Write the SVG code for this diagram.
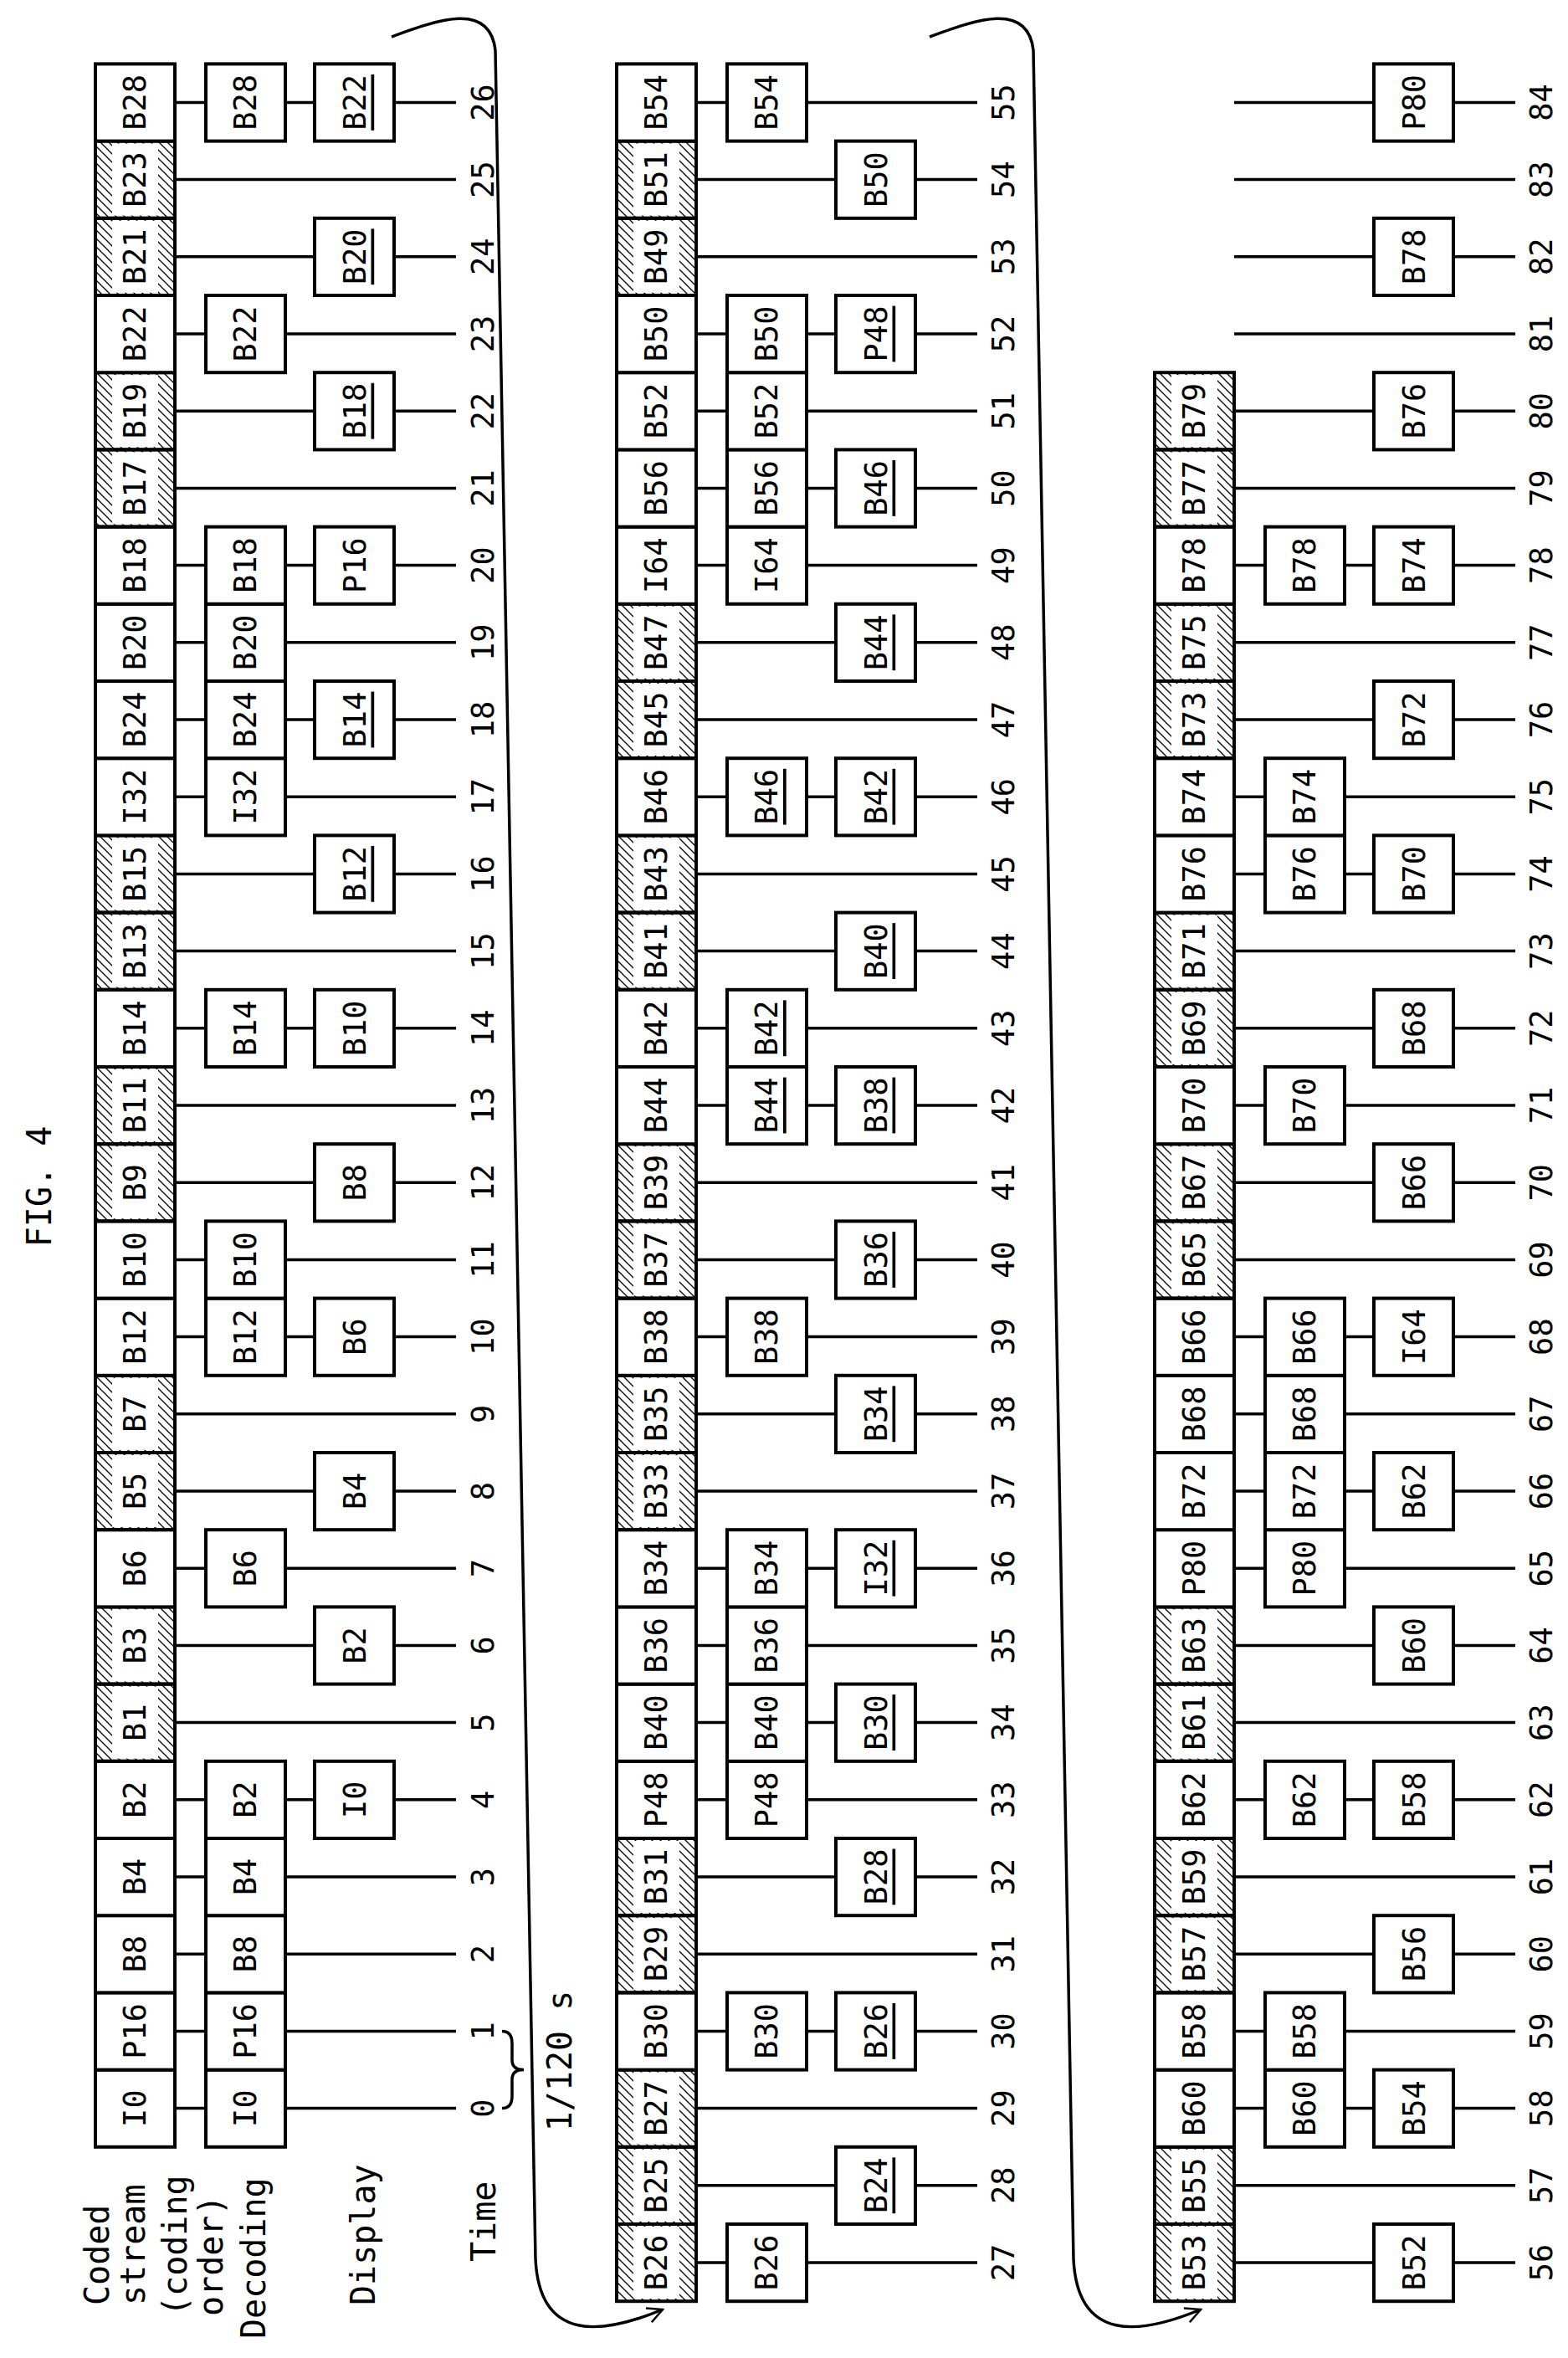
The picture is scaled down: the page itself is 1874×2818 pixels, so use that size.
<svg xmlns="http://www.w3.org/2000/svg" width="1874" height="2818" viewBox="0 0 1874 2818">
<style>
.b{fill:#fff;stroke:#000;stroke-width:4}
.hb{fill:url(#hp);stroke:#000;stroke-width:4}
.w{fill:#fff}
.l{stroke:#000;stroke-width:3.5;fill:none}
.t{font-family:"DejaVu Sans Mono","Liberation Mono",monospace;font-size:37px;text-anchor:middle;dominant-baseline:central;fill:#000}
.u{text-decoration:underline}
.lb{font-family:"DejaVu Sans Mono","Liberation Mono",monospace;font-size:40px;dominant-baseline:central;fill:#000}
</style>
<defs>
<pattern id="hp" width="10" height="10" patternUnits="userSpaceOnUse"><path d="M0,0 L10,10 M-5,5 L5,15 M5,-5 L15,5" stroke="#000" stroke-width="1.3"/></pattern>
<marker id="ah" markerWidth="24" markerHeight="24" refX="20" refY="12" orient="auto" markerUnits="userSpaceOnUse"><path d="M2,3 L20,12 L2,21" fill="none" stroke="#000" stroke-width="2.5"/></marker>
</defs>
<rect width="1874" height="2818" fill="#fff"/>
<g id="labels">
<text class="lb" font-size="52" text-anchor="middle" transform="translate(47,1418) rotate(-90)">FIG. 4</text>
<text class="lb" transform="translate(116,2755) rotate(-90)">Coded</text>
<text class="lb" transform="translate(159,2755) rotate(-90)">stream</text>
<text class="lb" transform="translate(209,2768) rotate(-90)">(coding</text>
<text class="lb" transform="translate(252,2768) rotate(-90)">order)</text>
<text class="lb" transform="translate(303,2795) rotate(-90)">Decoding</text>
<text class="lb" transform="translate(434,2755) rotate(-90)">Display</text>
<text class="lb" transform="translate(578,2703) rotate(-90)">Time</text>
<text class="lb" text-anchor="middle" transform="translate(669,2463) rotate(-90)">1/120 s</text>
</g>
<g id="connectors">
<path class="l" d="M600,2519.6 Q612,2519.6 612,2505 L612,2485 Q612,2473.5 626,2473.5 Q612,2473.5 612,2462 L612,2442 Q612,2427.4 600,2427.4"/>
<path class="l" stroke-width="3" d="M468,44 C520,25 585,0 592,60 L640,2700 C645,2800 720,2790 792,2760" marker-end="url(#ah)"/>
<path class="l" stroke-width="3" d="M1111,44 C1163,25 1228,0 1235,60 L1283,2700 C1288,2800 1363,2790 1435,2760" marker-end="url(#ah)"/>
<g id="lines1">
<line class="l" x1="209" x2="545" y1="2519.6" y2="2519.6"/><line class="l" x1="209" x2="545" y1="2427.4" y2="2427.4"/><line class="l" x1="209" x2="545" y1="2335.2" y2="2335.2"/><line class="l" x1="209" x2="545" y1="2243" y2="2243"/><line class="l" x1="209" x2="545" y1="2150.8" y2="2150.8"/><line class="l" x1="209" x2="545" y1="2058.6" y2="2058.6"/><line class="l" x1="209" x2="545" y1="1966.4" y2="1966.4"/><line class="l" x1="209" x2="545" y1="1874.2" y2="1874.2"/><line class="l" x1="209" x2="545" y1="1782" y2="1782"/><line class="l" x1="209" x2="545" y1="1689.8" y2="1689.8"/><line class="l" x1="209" x2="545" y1="1597.6" y2="1597.6"/><line class="l" x1="209" x2="545" y1="1505.4" y2="1505.4"/><line class="l" x1="209" x2="545" y1="1413.2" y2="1413.2"/><line class="l" x1="209" x2="545" y1="1321" y2="1321"/><line class="l" x1="209" x2="545" y1="1228.8" y2="1228.8"/><line class="l" x1="209" x2="545" y1="1136.6" y2="1136.6"/><line class="l" x1="209" x2="545" y1="1044.4" y2="1044.4"/><line class="l" x1="209" x2="545" y1="952.2" y2="952.2"/><line class="l" x1="209" x2="545" y1="860" y2="860"/><line class="l" x1="209" x2="545" y1="767.8" y2="767.8"/><line class="l" x1="209" x2="545" y1="675.6" y2="675.6"/><line class="l" x1="209" x2="545" y1="583.4" y2="583.4"/><line class="l" x1="209" x2="545" y1="491.2" y2="491.2"/><line class="l" x1="209" x2="545" y1="399" y2="399"/><line class="l" x1="209" x2="545" y1="306.8" y2="306.8"/><line class="l" x1="209" x2="545" y1="214.6" y2="214.6"/><line class="l" x1="209" x2="545" y1="122.4" y2="122.4"/>
</g>
<g id="lines2">
<line class="l" x1="832" x2="1168" y1="2704" y2="2704"/><line class="l" x1="832" x2="1168" y1="2611.8" y2="2611.8"/><line class="l" x1="832" x2="1168" y1="2519.6" y2="2519.6"/><line class="l" x1="832" x2="1168" y1="2427.4" y2="2427.4"/><line class="l" x1="832" x2="1168" y1="2335.2" y2="2335.2"/><line class="l" x1="832" x2="1168" y1="2243" y2="2243"/><line class="l" x1="832" x2="1168" y1="2150.8" y2="2150.8"/><line class="l" x1="832" x2="1168" y1="2058.6" y2="2058.6"/><line class="l" x1="832" x2="1168" y1="1966.4" y2="1966.4"/><line class="l" x1="832" x2="1168" y1="1874.2" y2="1874.2"/><line class="l" x1="832" x2="1168" y1="1782" y2="1782"/><line class="l" x1="832" x2="1168" y1="1689.8" y2="1689.8"/><line class="l" x1="832" x2="1168" y1="1597.6" y2="1597.6"/><line class="l" x1="832" x2="1168" y1="1505.4" y2="1505.4"/><line class="l" x1="832" x2="1168" y1="1413.2" y2="1413.2"/><line class="l" x1="832" x2="1168" y1="1321" y2="1321"/><line class="l" x1="832" x2="1168" y1="1228.8" y2="1228.8"/><line class="l" x1="832" x2="1168" y1="1136.6" y2="1136.6"/><line class="l" x1="832" x2="1168" y1="1044.4" y2="1044.4"/><line class="l" x1="832" x2="1168" y1="952.2" y2="952.2"/><line class="l" x1="832" x2="1168" y1="860" y2="860"/><line class="l" x1="832" x2="1168" y1="767.8" y2="767.8"/><line class="l" x1="832" x2="1168" y1="675.6" y2="675.6"/><line class="l" x1="832" x2="1168" y1="583.4" y2="583.4"/><line class="l" x1="832" x2="1168" y1="491.2" y2="491.2"/><line class="l" x1="832" x2="1168" y1="399" y2="399"/><line class="l" x1="832" x2="1168" y1="306.8" y2="306.8"/><line class="l" x1="832" x2="1168" y1="214.6" y2="214.6"/><line class="l" x1="832" x2="1168" y1="122.4" y2="122.4"/>
</g>
<g id="lines3">
<line class="l" x1="1475" x2="1811" y1="2704" y2="2704"/><line class="l" x1="1475" x2="1811" y1="2611.8" y2="2611.8"/><line class="l" x1="1475" x2="1811" y1="2519.6" y2="2519.6"/><line class="l" x1="1475" x2="1811" y1="2427.4" y2="2427.4"/><line class="l" x1="1475" x2="1811" y1="2335.2" y2="2335.2"/><line class="l" x1="1475" x2="1811" y1="2243" y2="2243"/><line class="l" x1="1475" x2="1811" y1="2150.8" y2="2150.8"/><line class="l" x1="1475" x2="1811" y1="2058.6" y2="2058.6"/><line class="l" x1="1475" x2="1811" y1="1966.4" y2="1966.4"/><line class="l" x1="1475" x2="1811" y1="1874.2" y2="1874.2"/><line class="l" x1="1475" x2="1811" y1="1782" y2="1782"/><line class="l" x1="1475" x2="1811" y1="1689.8" y2="1689.8"/><line class="l" x1="1475" x2="1811" y1="1597.6" y2="1597.6"/><line class="l" x1="1475" x2="1811" y1="1505.4" y2="1505.4"/><line class="l" x1="1475" x2="1811" y1="1413.2" y2="1413.2"/><line class="l" x1="1475" x2="1811" y1="1321" y2="1321"/><line class="l" x1="1475" x2="1811" y1="1228.8" y2="1228.8"/><line class="l" x1="1475" x2="1811" y1="1136.6" y2="1136.6"/><line class="l" x1="1475" x2="1811" y1="1044.4" y2="1044.4"/><line class="l" x1="1475" x2="1811" y1="952.2" y2="952.2"/><line class="l" x1="1475" x2="1811" y1="860" y2="860"/><line class="l" x1="1475" x2="1811" y1="767.8" y2="767.8"/><line class="l" x1="1475" x2="1811" y1="675.6" y2="675.6"/><line class="l" x1="1475" x2="1811" y1="583.4" y2="583.4"/><line class="l" x1="1475" x2="1811" y1="491.2" y2="491.2"/><line class="l" x1="1475" x2="1811" y1="399" y2="399"/><line class="l" x1="1475" x2="1811" y1="306.8" y2="306.8"/><line class="l" x1="1475" x2="1811" y1="214.6" y2="214.6"/><line class="l" x1="1475" x2="1811" y1="122.4" y2="122.4"/>
</g>
</g>
<g id="coded1">
<g id="c0"><rect class="b" x="114" y="2473.6" width="95" height="92.2"/><text class="t" transform="translate(161.5,2519.6) rotate(-90)">I0</text></g>
<g id="c1"><rect class="b" x="114" y="2381.4" width="95" height="92.2"/><text class="t" transform="translate(161.5,2427.4) rotate(-90)">P16</text></g>
<g id="c2"><rect class="b" x="114" y="2289.2" width="95" height="92.2"/><text class="t" transform="translate(161.5,2335.2) rotate(-90)">B8</text></g>
<g id="c3"><rect class="b" x="114" y="2197" width="95" height="92.2"/><text class="t" transform="translate(161.5,2243) rotate(-90)">B4</text></g>
<g id="c4"><rect class="b" x="114" y="2104.8" width="95" height="92.2"/><text class="t" transform="translate(161.5,2150.8) rotate(-90)">B2</text></g>
<g id="c5"><rect class="hb" x="114" y="2012.6" width="95" height="92.2"/><rect class="w" x="134" y="2015.6" width="55" height="86"/><text class="t" transform="translate(161.5,2058.6) rotate(-90)">B1</text></g>
<g id="c6"><rect class="hb" x="114" y="1920.4" width="95" height="92.2"/><rect class="w" x="134" y="1923.4" width="55" height="86"/><text class="t" transform="translate(161.5,1966.4) rotate(-90)">B3</text></g>
<g id="c7"><rect class="b" x="114" y="1828.2" width="95" height="92.2"/><text class="t" transform="translate(161.5,1874.2) rotate(-90)">B6</text></g>
<g id="c8"><rect class="hb" x="114" y="1736" width="95" height="92.2"/><rect class="w" x="134" y="1739" width="55" height="86"/><text class="t" transform="translate(161.5,1782) rotate(-90)">B5</text></g>
<g id="c9"><rect class="hb" x="114" y="1643.8" width="95" height="92.2"/><rect class="w" x="134" y="1646.8" width="55" height="86"/><text class="t" transform="translate(161.5,1689.8) rotate(-90)">B7</text></g>
<g id="c10"><rect class="b" x="114" y="1551.6" width="95" height="92.2"/><text class="t" transform="translate(161.5,1597.6) rotate(-90)">B12</text></g>
<g id="c11"><rect class="b" x="114" y="1459.4" width="95" height="92.2"/><text class="t" transform="translate(161.5,1505.4) rotate(-90)">B10</text></g>
<g id="c12"><rect class="hb" x="114" y="1367.2" width="95" height="92.2"/><rect class="w" x="134" y="1370.2" width="55" height="86"/><text class="t" transform="translate(161.5,1413.2) rotate(-90)">B9</text></g>
<g id="c13"><rect class="hb" x="114" y="1275" width="95" height="92.2"/><rect class="w" x="134" y="1278" width="55" height="86"/><text class="t" transform="translate(161.5,1321) rotate(-90)">B11</text></g>
<g id="c14"><rect class="b" x="114" y="1182.8" width="95" height="92.2"/><text class="t" transform="translate(161.5,1228.8) rotate(-90)">B14</text></g>
<g id="c15"><rect class="hb" x="114" y="1090.6" width="95" height="92.2"/><rect class="w" x="134" y="1093.6" width="55" height="86"/><text class="t" transform="translate(161.5,1136.6) rotate(-90)">B13</text></g>
<g id="c16"><rect class="hb" x="114" y="998.4" width="95" height="92.2"/><rect class="w" x="134" y="1001.4" width="55" height="86"/><text class="t" transform="translate(161.5,1044.4) rotate(-90)">B15</text></g>
<g id="c17"><rect class="b" x="114" y="906.2" width="95" height="92.2"/><text class="t" transform="translate(161.5,952.2) rotate(-90)">I32</text></g>
<g id="c18"><rect class="b" x="114" y="814" width="95" height="92.2"/><text class="t" transform="translate(161.5,860) rotate(-90)">B24</text></g>
<g id="c19"><rect class="b" x="114" y="721.8" width="95" height="92.2"/><text class="t" transform="translate(161.5,767.8) rotate(-90)">B20</text></g>
<g id="c20"><rect class="b" x="114" y="629.6" width="95" height="92.2"/><text class="t" transform="translate(161.5,675.6) rotate(-90)">B18</text></g>
<g id="c21"><rect class="hb" x="114" y="537.4" width="95" height="92.2"/><rect class="w" x="134" y="540.4" width="55" height="86"/><text class="t" transform="translate(161.5,583.4) rotate(-90)">B17</text></g>
<g id="c22"><rect class="hb" x="114" y="445.2" width="95" height="92.2"/><rect class="w" x="134" y="448.2" width="55" height="86"/><text class="t" transform="translate(161.5,491.2) rotate(-90)">B19</text></g>
<g id="c23"><rect class="b" x="114" y="353" width="95" height="92.2"/><text class="t" transform="translate(161.5,399) rotate(-90)">B22</text></g>
<g id="c24"><rect class="hb" x="114" y="260.8" width="95" height="92.2"/><rect class="w" x="134" y="263.8" width="55" height="86"/><text class="t" transform="translate(161.5,306.8) rotate(-90)">B21</text></g>
<g id="c25"><rect class="hb" x="114" y="168.6" width="95" height="92.2"/><rect class="w" x="134" y="171.6" width="55" height="86"/><text class="t" transform="translate(161.5,214.6) rotate(-90)">B23</text></g>
<g id="c26"><rect class="b" x="114" y="76.4" width="95" height="92.2"/><text class="t" transform="translate(161.5,122.4) rotate(-90)">B28</text></g>
</g>
<g id="decode1">
<g id="d0"><rect class="b" x="246" y="2473.6" width="95" height="92.2"/><text class="t" transform="translate(293.5,2519.6) rotate(-90)">I0</text></g>
<g id="d1"><rect class="b" x="246" y="2381.4" width="95" height="92.2"/><text class="t" transform="translate(293.5,2427.4) rotate(-90)">P16</text></g>
<g id="d2"><rect class="b" x="246" y="2289.2" width="95" height="92.2"/><text class="t" transform="translate(293.5,2335.2) rotate(-90)">B8</text></g>
<g id="d3"><rect class="b" x="246" y="2197" width="95" height="92.2"/><text class="t" transform="translate(293.5,2243) rotate(-90)">B4</text></g>
<g id="d4"><rect class="b" x="246" y="2104.8" width="95" height="92.2"/><text class="t" transform="translate(293.5,2150.8) rotate(-90)">B2</text></g>
<g id="d7"><rect class="b" x="246" y="1828.2" width="95" height="92.2"/><text class="t" transform="translate(293.5,1874.2) rotate(-90)">B6</text></g>
<g id="d10"><rect class="b" x="246" y="1551.6" width="95" height="92.2"/><text class="t" transform="translate(293.5,1597.6) rotate(-90)">B12</text></g>
<g id="d11"><rect class="b" x="246" y="1459.4" width="95" height="92.2"/><text class="t" transform="translate(293.5,1505.4) rotate(-90)">B10</text></g>
<g id="d14"><rect class="b" x="246" y="1182.8" width="95" height="92.2"/><text class="t" transform="translate(293.5,1228.8) rotate(-90)">B14</text></g>
<g id="d17"><rect class="b" x="246" y="906.2" width="95" height="92.2"/><text class="t" transform="translate(293.5,952.2) rotate(-90)">I32</text></g>
<g id="d18"><rect class="b" x="246" y="814" width="95" height="92.2"/><text class="t" transform="translate(293.5,860) rotate(-90)">B24</text></g>
<g id="d19"><rect class="b" x="246" y="721.8" width="95" height="92.2"/><text class="t" transform="translate(293.5,767.8) rotate(-90)">B20</text></g>
<g id="d20"><rect class="b" x="246" y="629.6" width="95" height="92.2"/><text class="t" transform="translate(293.5,675.6) rotate(-90)">B18</text></g>
<g id="d23"><rect class="b" x="246" y="353" width="95" height="92.2"/><text class="t" transform="translate(293.5,399) rotate(-90)">B22</text></g>
<g id="d26"><rect class="b" x="246" y="76.4" width="95" height="92.2"/><text class="t" transform="translate(293.5,122.4) rotate(-90)">B28</text></g>
</g>
<g id="display1">
<g id="p4"><rect class="b" x="376" y="2104.8" width="95" height="92.2"/><text class="t" transform="translate(424,2150.8) rotate(-90)">I0</text></g>
<g id="p6"><rect class="b" x="376" y="1920.4" width="95" height="92.2"/><text class="t" transform="translate(424,1966.4) rotate(-90)">B2</text></g>
<g id="p8"><rect class="b" x="376" y="1736" width="95" height="92.2"/><text class="t" transform="translate(424,1782) rotate(-90)">B4</text></g>
<g id="p10"><rect class="b" x="376" y="1551.6" width="95" height="92.2"/><text class="t" transform="translate(424,1597.6) rotate(-90)">B6</text></g>
<g id="p12"><rect class="b" x="376" y="1367.2" width="95" height="92.2"/><text class="t" transform="translate(424,1413.2) rotate(-90)">B8</text></g>
<g id="p14"><rect class="b" x="376" y="1182.8" width="95" height="92.2"/><text class="t" transform="translate(424,1228.8) rotate(-90)">B10</text></g>
<g id="p16"><rect class="b" x="376" y="998.4" width="95" height="92.2"/><text class="t u" transform="translate(424,1044.4) rotate(-90)">B12</text></g>
<g id="p18"><rect class="b" x="376" y="814" width="95" height="92.2"/><text class="t u" transform="translate(424,860) rotate(-90)">B14</text></g>
<g id="p20"><rect class="b" x="376" y="629.6" width="95" height="92.2"/><text class="t" transform="translate(424,675.6) rotate(-90)">P16</text></g>
<g id="p22"><rect class="b" x="376" y="445.2" width="95" height="92.2"/><text class="t u" transform="translate(424,491.2) rotate(-90)">B18</text></g>
<g id="p24"><rect class="b" x="376" y="260.8" width="95" height="92.2"/><text class="t u" transform="translate(424,306.8) rotate(-90)">B20</text></g>
<g id="p26"><rect class="b" x="376" y="76.4" width="95" height="92.2"/><text class="t u" transform="translate(424,122.4) rotate(-90)">B22</text></g>
</g>
<g id="coded2">
<g id="c27"><rect class="hb" x="737" y="2658" width="95" height="92.2"/><rect class="w" x="757" y="2661" width="55" height="86"/><text class="t" transform="translate(784.5,2704) rotate(-90)">B26</text></g>
<g id="c28"><rect class="hb" x="737" y="2565.8" width="95" height="92.2"/><rect class="w" x="757" y="2568.8" width="55" height="86"/><text class="t" transform="translate(784.5,2611.8) rotate(-90)">B25</text></g>
<g id="c29"><rect class="hb" x="737" y="2473.6" width="95" height="92.2"/><rect class="w" x="757" y="2476.6" width="55" height="86"/><text class="t" transform="translate(784.5,2519.6) rotate(-90)">B27</text></g>
<g id="c30"><rect class="b" x="737" y="2381.4" width="95" height="92.2"/><text class="t" transform="translate(784.5,2427.4) rotate(-90)">B30</text></g>
<g id="c31"><rect class="hb" x="737" y="2289.2" width="95" height="92.2"/><rect class="w" x="757" y="2292.2" width="55" height="86"/><text class="t" transform="translate(784.5,2335.2) rotate(-90)">B29</text></g>
<g id="c32"><rect class="hb" x="737" y="2197" width="95" height="92.2"/><rect class="w" x="757" y="2200" width="55" height="86"/><text class="t" transform="translate(784.5,2243) rotate(-90)">B31</text></g>
<g id="c33"><rect class="b" x="737" y="2104.8" width="95" height="92.2"/><text class="t" transform="translate(784.5,2150.8) rotate(-90)">P48</text></g>
<g id="c34"><rect class="b" x="737" y="2012.6" width="95" height="92.2"/><text class="t" transform="translate(784.5,2058.6) rotate(-90)">B40</text></g>
<g id="c35"><rect class="b" x="737" y="1920.4" width="95" height="92.2"/><text class="t" transform="translate(784.5,1966.4) rotate(-90)">B36</text></g>
<g id="c36"><rect class="b" x="737" y="1828.2" width="95" height="92.2"/><text class="t" transform="translate(784.5,1874.2) rotate(-90)">B34</text></g>
<g id="c37"><rect class="hb" x="737" y="1736" width="95" height="92.2"/><rect class="w" x="757" y="1739" width="55" height="86"/><text class="t" transform="translate(784.5,1782) rotate(-90)">B33</text></g>
<g id="c38"><rect class="hb" x="737" y="1643.8" width="95" height="92.2"/><rect class="w" x="757" y="1646.8" width="55" height="86"/><text class="t" transform="translate(784.5,1689.8) rotate(-90)">B35</text></g>
<g id="c39"><rect class="b" x="737" y="1551.6" width="95" height="92.2"/><text class="t" transform="translate(784.5,1597.6) rotate(-90)">B38</text></g>
<g id="c40"><rect class="hb" x="737" y="1459.4" width="95" height="92.2"/><rect class="w" x="757" y="1462.4" width="55" height="86"/><text class="t" transform="translate(784.5,1505.4) rotate(-90)">B37</text></g>
<g id="c41"><rect class="hb" x="737" y="1367.2" width="95" height="92.2"/><rect class="w" x="757" y="1370.2" width="55" height="86"/><text class="t" transform="translate(784.5,1413.2) rotate(-90)">B39</text></g>
<g id="c42"><rect class="b" x="737" y="1275" width="95" height="92.2"/><text class="t" transform="translate(784.5,1321) rotate(-90)">B44</text></g>
<g id="c43"><rect class="b" x="737" y="1182.8" width="95" height="92.2"/><text class="t" transform="translate(784.5,1228.8) rotate(-90)">B42</text></g>
<g id="c44"><rect class="hb" x="737" y="1090.6" width="95" height="92.2"/><rect class="w" x="757" y="1093.6" width="55" height="86"/><text class="t" transform="translate(784.5,1136.6) rotate(-90)">B41</text></g>
<g id="c45"><rect class="hb" x="737" y="998.4" width="95" height="92.2"/><rect class="w" x="757" y="1001.4" width="55" height="86"/><text class="t" transform="translate(784.5,1044.4) rotate(-90)">B43</text></g>
<g id="c46"><rect class="b" x="737" y="906.2" width="95" height="92.2"/><text class="t" transform="translate(784.5,952.2) rotate(-90)">B46</text></g>
<g id="c47"><rect class="hb" x="737" y="814" width="95" height="92.2"/><rect class="w" x="757" y="817" width="55" height="86"/><text class="t" transform="translate(784.5,860) rotate(-90)">B45</text></g>
<g id="c48"><rect class="hb" x="737" y="721.8" width="95" height="92.2"/><rect class="w" x="757" y="724.8" width="55" height="86"/><text class="t" transform="translate(784.5,767.8) rotate(-90)">B47</text></g>
<g id="c49"><rect class="b" x="737" y="629.6" width="95" height="92.2"/><text class="t" transform="translate(784.5,675.6) rotate(-90)">I64</text></g>
<g id="c50"><rect class="b" x="737" y="537.4" width="95" height="92.2"/><text class="t" transform="translate(784.5,583.4) rotate(-90)">B56</text></g>
<g id="c51"><rect class="b" x="737" y="445.2" width="95" height="92.2"/><text class="t" transform="translate(784.5,491.2) rotate(-90)">B52</text></g>
<g id="c52"><rect class="b" x="737" y="353" width="95" height="92.2"/><text class="t" transform="translate(784.5,399) rotate(-90)">B50</text></g>
<g id="c53"><rect class="hb" x="737" y="260.8" width="95" height="92.2"/><rect class="w" x="757" y="263.8" width="55" height="86"/><text class="t" transform="translate(784.5,306.8) rotate(-90)">B49</text></g>
<g id="c54"><rect class="hb" x="737" y="168.6" width="95" height="92.2"/><rect class="w" x="757" y="171.6" width="55" height="86"/><text class="t" transform="translate(784.5,214.6) rotate(-90)">B51</text></g>
<g id="c55"><rect class="b" x="737" y="76.4" width="95" height="92.2"/><text class="t" transform="translate(784.5,122.4) rotate(-90)">B54</text></g>
</g>
<g id="decode2">
<g id="d27"><rect class="b" x="869" y="2658" width="95" height="92.2"/><text class="t" transform="translate(916.5,2704) rotate(-90)">B26</text></g>
<g id="d30"><rect class="b" x="869" y="2381.4" width="95" height="92.2"/><text class="t" transform="translate(916.5,2427.4) rotate(-90)">B30</text></g>
<g id="d33"><rect class="b" x="869" y="2104.8" width="95" height="92.2"/><text class="t" transform="translate(916.5,2150.8) rotate(-90)">P48</text></g>
<g id="d34"><rect class="b" x="869" y="2012.6" width="95" height="92.2"/><text class="t" transform="translate(916.5,2058.6) rotate(-90)">B40</text></g>
<g id="d35"><rect class="b" x="869" y="1920.4" width="95" height="92.2"/><text class="t" transform="translate(916.5,1966.4) rotate(-90)">B36</text></g>
<g id="d36"><rect class="b" x="869" y="1828.2" width="95" height="92.2"/><text class="t" transform="translate(916.5,1874.2) rotate(-90)">B34</text></g>
<g id="d39"><rect class="b" x="869" y="1551.6" width="95" height="92.2"/><text class="t" transform="translate(916.5,1597.6) rotate(-90)">B38</text></g>
<g id="d42"><rect class="b" x="869" y="1275" width="95" height="92.2"/><text class="t u" transform="translate(916.5,1321) rotate(-90)">B44</text></g>
<g id="d43"><rect class="b" x="869" y="1182.8" width="95" height="92.2"/><text class="t u" transform="translate(916.5,1228.8) rotate(-90)">B42</text></g>
<g id="d46"><rect class="b" x="869" y="906.2" width="95" height="92.2"/><text class="t u" transform="translate(916.5,952.2) rotate(-90)">B46</text></g>
<g id="d49"><rect class="b" x="869" y="629.6" width="95" height="92.2"/><text class="t" transform="translate(916.5,675.6) rotate(-90)">I64</text></g>
<g id="d50"><rect class="b" x="869" y="537.4" width="95" height="92.2"/><text class="t" transform="translate(916.5,583.4) rotate(-90)">B56</text></g>
<g id="d51"><rect class="b" x="869" y="445.2" width="95" height="92.2"/><text class="t" transform="translate(916.5,491.2) rotate(-90)">B52</text></g>
<g id="d52"><rect class="b" x="869" y="353" width="95" height="92.2"/><text class="t" transform="translate(916.5,399) rotate(-90)">B50</text></g>
<g id="d55"><rect class="b" x="869" y="76.4" width="95" height="92.2"/><text class="t" transform="translate(916.5,122.4) rotate(-90)">B54</text></g>
</g>
<g id="display2">
<g id="p28"><rect class="b" x="999" y="2565.8" width="95" height="92.2"/><text class="t u" transform="translate(1047,2611.8) rotate(-90)">B24</text></g>
<g id="p30"><rect class="b" x="999" y="2381.4" width="95" height="92.2"/><text class="t u" transform="translate(1047,2427.4) rotate(-90)">B26</text></g>
<g id="p32"><rect class="b" x="999" y="2197" width="95" height="92.2"/><text class="t u" transform="translate(1047,2243) rotate(-90)">B28</text></g>
<g id="p34"><rect class="b" x="999" y="2012.6" width="95" height="92.2"/><text class="t u" transform="translate(1047,2058.6) rotate(-90)">B30</text></g>
<g id="p36"><rect class="b" x="999" y="1828.2" width="95" height="92.2"/><text class="t u" transform="translate(1047,1874.2) rotate(-90)">I32</text></g>
<g id="p38"><rect class="b" x="999" y="1643.8" width="95" height="92.2"/><text class="t u" transform="translate(1047,1689.8) rotate(-90)">B34</text></g>
<g id="p40"><rect class="b" x="999" y="1459.4" width="95" height="92.2"/><text class="t u" transform="translate(1047,1505.4) rotate(-90)">B36</text></g>
<g id="p42"><rect class="b" x="999" y="1275" width="95" height="92.2"/><text class="t u" transform="translate(1047,1321) rotate(-90)">B38</text></g>
<g id="p44"><rect class="b" x="999" y="1090.6" width="95" height="92.2"/><text class="t u" transform="translate(1047,1136.6) rotate(-90)">B40</text></g>
<g id="p46"><rect class="b" x="999" y="906.2" width="95" height="92.2"/><text class="t u" transform="translate(1047,952.2) rotate(-90)">B42</text></g>
<g id="p48"><rect class="b" x="999" y="721.8" width="95" height="92.2"/><text class="t u" transform="translate(1047,767.8) rotate(-90)">B44</text></g>
<g id="p50"><rect class="b" x="999" y="537.4" width="95" height="92.2"/><text class="t u" transform="translate(1047,583.4) rotate(-90)">B46</text></g>
<g id="p52"><rect class="b" x="999" y="353" width="95" height="92.2"/><text class="t u" transform="translate(1047,399) rotate(-90)">P48</text></g>
<g id="p54"><rect class="b" x="999" y="168.6" width="95" height="92.2"/><text class="t" transform="translate(1047,214.6) rotate(-90)">B50</text></g>
</g>
<g id="coded3">
<g id="c56"><rect class="hb" x="1380" y="2658" width="95" height="92.2"/><rect class="w" x="1400" y="2661" width="55" height="86"/><text class="t" transform="translate(1427.5,2704) rotate(-90)">B53</text></g>
<g id="c57"><rect class="hb" x="1380" y="2565.8" width="95" height="92.2"/><rect class="w" x="1400" y="2568.8" width="55" height="86"/><text class="t" transform="translate(1427.5,2611.8) rotate(-90)">B55</text></g>
<g id="c58"><rect class="b" x="1380" y="2473.6" width="95" height="92.2"/><text class="t" transform="translate(1427.5,2519.6) rotate(-90)">B60</text></g>
<g id="c59"><rect class="b" x="1380" y="2381.4" width="95" height="92.2"/><text class="t" transform="translate(1427.5,2427.4) rotate(-90)">B58</text></g>
<g id="c60"><rect class="hb" x="1380" y="2289.2" width="95" height="92.2"/><rect class="w" x="1400" y="2292.2" width="55" height="86"/><text class="t" transform="translate(1427.5,2335.2) rotate(-90)">B57</text></g>
<g id="c61"><rect class="hb" x="1380" y="2197" width="95" height="92.2"/><rect class="w" x="1400" y="2200" width="55" height="86"/><text class="t" transform="translate(1427.5,2243) rotate(-90)">B59</text></g>
<g id="c62"><rect class="b" x="1380" y="2104.8" width="95" height="92.2"/><text class="t" transform="translate(1427.5,2150.8) rotate(-90)">B62</text></g>
<g id="c63"><rect class="hb" x="1380" y="2012.6" width="95" height="92.2"/><rect class="w" x="1400" y="2015.6" width="55" height="86"/><text class="t" transform="translate(1427.5,2058.6) rotate(-90)">B61</text></g>
<g id="c64"><rect class="hb" x="1380" y="1920.4" width="95" height="92.2"/><rect class="w" x="1400" y="1923.4" width="55" height="86"/><text class="t" transform="translate(1427.5,1966.4) rotate(-90)">B63</text></g>
<g id="c65"><rect class="b" x="1380" y="1828.2" width="95" height="92.2"/><text class="t" transform="translate(1427.5,1874.2) rotate(-90)">P80</text></g>
<g id="c66"><rect class="b" x="1380" y="1736" width="95" height="92.2"/><text class="t" transform="translate(1427.5,1782) rotate(-90)">B72</text></g>
<g id="c67"><rect class="b" x="1380" y="1643.8" width="95" height="92.2"/><text class="t" transform="translate(1427.5,1689.8) rotate(-90)">B68</text></g>
<g id="c68"><rect class="b" x="1380" y="1551.6" width="95" height="92.2"/><text class="t" transform="translate(1427.5,1597.6) rotate(-90)">B66</text></g>
<g id="c69"><rect class="hb" x="1380" y="1459.4" width="95" height="92.2"/><rect class="w" x="1400" y="1462.4" width="55" height="86"/><text class="t" transform="translate(1427.5,1505.4) rotate(-90)">B65</text></g>
<g id="c70"><rect class="hb" x="1380" y="1367.2" width="95" height="92.2"/><rect class="w" x="1400" y="1370.2" width="55" height="86"/><text class="t" transform="translate(1427.5,1413.2) rotate(-90)">B67</text></g>
<g id="c71"><rect class="b" x="1380" y="1275" width="95" height="92.2"/><text class="t" transform="translate(1427.5,1321) rotate(-90)">B70</text></g>
<g id="c72"><rect class="hb" x="1380" y="1182.8" width="95" height="92.2"/><rect class="w" x="1400" y="1185.8" width="55" height="86"/><text class="t" transform="translate(1427.5,1228.8) rotate(-90)">B69</text></g>
<g id="c73"><rect class="hb" x="1380" y="1090.6" width="95" height="92.2"/><rect class="w" x="1400" y="1093.6" width="55" height="86"/><text class="t" transform="translate(1427.5,1136.6) rotate(-90)">B71</text></g>
<g id="c74"><rect class="b" x="1380" y="998.4" width="95" height="92.2"/><text class="t" transform="translate(1427.5,1044.4) rotate(-90)">B76</text></g>
<g id="c75"><rect class="b" x="1380" y="906.2" width="95" height="92.2"/><text class="t" transform="translate(1427.5,952.2) rotate(-90)">B74</text></g>
<g id="c76"><rect class="hb" x="1380" y="814" width="95" height="92.2"/><rect class="w" x="1400" y="817" width="55" height="86"/><text class="t" transform="translate(1427.5,860) rotate(-90)">B73</text></g>
<g id="c77"><rect class="hb" x="1380" y="721.8" width="95" height="92.2"/><rect class="w" x="1400" y="724.8" width="55" height="86"/><text class="t" transform="translate(1427.5,767.8) rotate(-90)">B75</text></g>
<g id="c78"><rect class="b" x="1380" y="629.6" width="95" height="92.2"/><text class="t" transform="translate(1427.5,675.6) rotate(-90)">B78</text></g>
<g id="c79"><rect class="hb" x="1380" y="537.4" width="95" height="92.2"/><rect class="w" x="1400" y="540.4" width="55" height="86"/><text class="t" transform="translate(1427.5,583.4) rotate(-90)">B77</text></g>
<g id="c80"><rect class="hb" x="1380" y="445.2" width="95" height="92.2"/><rect class="w" x="1400" y="448.2" width="55" height="86"/><text class="t" transform="translate(1427.5,491.2) rotate(-90)">B79</text></g>
</g>
<g id="decode3">
<g id="d58"><rect class="b" x="1512" y="2473.6" width="95" height="92.2"/><text class="t" transform="translate(1559.5,2519.6) rotate(-90)">B60</text></g>
<g id="d59"><rect class="b" x="1512" y="2381.4" width="95" height="92.2"/><text class="t" transform="translate(1559.5,2427.4) rotate(-90)">B58</text></g>
<g id="d62"><rect class="b" x="1512" y="2104.8" width="95" height="92.2"/><text class="t" transform="translate(1559.5,2150.8) rotate(-90)">B62</text></g>
<g id="d65"><rect class="b" x="1512" y="1828.2" width="95" height="92.2"/><text class="t" transform="translate(1559.5,1874.2) rotate(-90)">P80</text></g>
<g id="d66"><rect class="b" x="1512" y="1736" width="95" height="92.2"/><text class="t" transform="translate(1559.5,1782) rotate(-90)">B72</text></g>
<g id="d67"><rect class="b" x="1512" y="1643.8" width="95" height="92.2"/><text class="t" transform="translate(1559.5,1689.8) rotate(-90)">B68</text></g>
<g id="d68"><rect class="b" x="1512" y="1551.6" width="95" height="92.2"/><text class="t" transform="translate(1559.5,1597.6) rotate(-90)">B66</text></g>
<g id="d71"><rect class="b" x="1512" y="1275" width="95" height="92.2"/><text class="t" transform="translate(1559.5,1321) rotate(-90)">B70</text></g>
<g id="d74"><rect class="b" x="1512" y="998.4" width="95" height="92.2"/><text class="t" transform="translate(1559.5,1044.4) rotate(-90)">B76</text></g>
<g id="d75"><rect class="b" x="1512" y="906.2" width="95" height="92.2"/><text class="t" transform="translate(1559.5,952.2) rotate(-90)">B74</text></g>
<g id="d78"><rect class="b" x="1512" y="629.6" width="95" height="92.2"/><text class="t" transform="translate(1559.5,675.6) rotate(-90)">B78</text></g>
</g>
<g id="display3">
<g id="p56"><rect class="b" x="1642" y="2658" width="95" height="92.2"/><text class="t" transform="translate(1690,2704) rotate(-90)">B52</text></g>
<g id="p58"><rect class="b" x="1642" y="2473.6" width="95" height="92.2"/><text class="t" transform="translate(1690,2519.6) rotate(-90)">B54</text></g>
<g id="p60"><rect class="b" x="1642" y="2289.2" width="95" height="92.2"/><text class="t" transform="translate(1690,2335.2) rotate(-90)">B56</text></g>
<g id="p62"><rect class="b" x="1642" y="2104.8" width="95" height="92.2"/><text class="t" transform="translate(1690,2150.8) rotate(-90)">B58</text></g>
<g id="p64"><rect class="b" x="1642" y="1920.4" width="95" height="92.2"/><text class="t" transform="translate(1690,1966.4) rotate(-90)">B60</text></g>
<g id="p66"><rect class="b" x="1642" y="1736" width="95" height="92.2"/><text class="t" transform="translate(1690,1782) rotate(-90)">B62</text></g>
<g id="p68"><rect class="b" x="1642" y="1551.6" width="95" height="92.2"/><text class="t" transform="translate(1690,1597.6) rotate(-90)">I64</text></g>
<g id="p70"><rect class="b" x="1642" y="1367.2" width="95" height="92.2"/><text class="t" transform="translate(1690,1413.2) rotate(-90)">B66</text></g>
<g id="p72"><rect class="b" x="1642" y="1182.8" width="95" height="92.2"/><text class="t" transform="translate(1690,1228.8) rotate(-90)">B68</text></g>
<g id="p74"><rect class="b" x="1642" y="998.4" width="95" height="92.2"/><text class="t" transform="translate(1690,1044.4) rotate(-90)">B70</text></g>
<g id="p76"><rect class="b" x="1642" y="814" width="95" height="92.2"/><text class="t" transform="translate(1690,860) rotate(-90)">B72</text></g>
<g id="p78"><rect class="b" x="1642" y="629.6" width="95" height="92.2"/><text class="t" transform="translate(1690,675.6) rotate(-90)">B74</text></g>
<g id="p80"><rect class="b" x="1642" y="445.2" width="95" height="92.2"/><text class="t" transform="translate(1690,491.2) rotate(-90)">B76</text></g>
<g id="p82"><rect class="b" x="1642" y="260.8" width="95" height="92.2"/><text class="t" transform="translate(1690,306.8) rotate(-90)">B78</text></g>
<g id="p84"><rect class="b" x="1642" y="76.4" width="95" height="92.2"/><text class="t" transform="translate(1690,122.4) rotate(-90)">P80</text></g>
</g>
<g id="times" class="t">
<text class="t" transform="translate(577,2519.6) rotate(-90)">0</text><text class="t" transform="translate(577,2427.4) rotate(-90)">1</text><text class="t" transform="translate(577,2335.2) rotate(-90)">2</text><text class="t" transform="translate(577,2243) rotate(-90)">3</text><text class="t" transform="translate(577,2150.8) rotate(-90)">4</text><text class="t" transform="translate(577,2058.6) rotate(-90)">5</text><text class="t" transform="translate(577,1966.4) rotate(-90)">6</text><text class="t" transform="translate(577,1874.2) rotate(-90)">7</text><text class="t" transform="translate(577,1782) rotate(-90)">8</text><text class="t" transform="translate(577,1689.8) rotate(-90)">9</text><text class="t" transform="translate(577,1597.6) rotate(-90)">10</text><text class="t" transform="translate(577,1505.4) rotate(-90)">11</text><text class="t" transform="translate(577,1413.2) rotate(-90)">12</text><text class="t" transform="translate(577,1321) rotate(-90)">13</text><text class="t" transform="translate(577,1228.8) rotate(-90)">14</text><text class="t" transform="translate(577,1136.6) rotate(-90)">15</text><text class="t" transform="translate(577,1044.4) rotate(-90)">16</text><text class="t" transform="translate(577,952.2) rotate(-90)">17</text><text class="t" transform="translate(577,860) rotate(-90)">18</text><text class="t" transform="translate(577,767.8) rotate(-90)">19</text><text class="t" transform="translate(577,675.6) rotate(-90)">20</text><text class="t" transform="translate(577,583.4) rotate(-90)">21</text><text class="t" transform="translate(577,491.2) rotate(-90)">22</text><text class="t" transform="translate(577,399) rotate(-90)">23</text><text class="t" transform="translate(577,306.8) rotate(-90)">24</text><text class="t" transform="translate(577,214.6) rotate(-90)">25</text><text class="t" transform="translate(577,122.4) rotate(-90)">26</text>
<text class="t" transform="translate(1199,2704) rotate(-90)">27</text><text class="t" transform="translate(1199,2611.8) rotate(-90)">28</text><text class="t" transform="translate(1199,2519.6) rotate(-90)">29</text><text class="t" transform="translate(1199,2427.4) rotate(-90)">30</text><text class="t" transform="translate(1199,2335.2) rotate(-90)">31</text><text class="t" transform="translate(1199,2243) rotate(-90)">32</text><text class="t" transform="translate(1199,2150.8) rotate(-90)">33</text><text class="t" transform="translate(1199,2058.6) rotate(-90)">34</text><text class="t" transform="translate(1199,1966.4) rotate(-90)">35</text><text class="t" transform="translate(1199,1874.2) rotate(-90)">36</text><text class="t" transform="translate(1199,1782) rotate(-90)">37</text><text class="t" transform="translate(1199,1689.8) rotate(-90)">38</text><text class="t" transform="translate(1199,1597.6) rotate(-90)">39</text><text class="t" transform="translate(1199,1505.4) rotate(-90)">40</text><text class="t" transform="translate(1199,1413.2) rotate(-90)">41</text><text class="t" transform="translate(1199,1321) rotate(-90)">42</text><text class="t" transform="translate(1199,1228.8) rotate(-90)">43</text><text class="t" transform="translate(1199,1136.6) rotate(-90)">44</text><text class="t" transform="translate(1199,1044.4) rotate(-90)">45</text><text class="t" transform="translate(1199,952.2) rotate(-90)">46</text><text class="t" transform="translate(1199,860) rotate(-90)">47</text><text class="t" transform="translate(1199,767.8) rotate(-90)">48</text><text class="t" transform="translate(1199,675.6) rotate(-90)">49</text><text class="t" transform="translate(1199,583.4) rotate(-90)">50</text><text class="t" transform="translate(1199,491.2) rotate(-90)">51</text><text class="t" transform="translate(1199,399) rotate(-90)">52</text><text class="t" transform="translate(1199,306.8) rotate(-90)">53</text><text class="t" transform="translate(1199,214.6) rotate(-90)">54</text><text class="t" transform="translate(1199,122.4) rotate(-90)">55</text>
<text class="t" transform="translate(1842,2704) rotate(-90)">56</text><text class="t" transform="translate(1842,2611.8) rotate(-90)">57</text><text class="t" transform="translate(1842,2519.6) rotate(-90)">58</text><text class="t" transform="translate(1842,2427.4) rotate(-90)">59</text><text class="t" transform="translate(1842,2335.2) rotate(-90)">60</text><text class="t" transform="translate(1842,2243) rotate(-90)">61</text><text class="t" transform="translate(1842,2150.8) rotate(-90)">62</text><text class="t" transform="translate(1842,2058.6) rotate(-90)">63</text><text class="t" transform="translate(1842,1966.4) rotate(-90)">64</text><text class="t" transform="translate(1842,1874.2) rotate(-90)">65</text><text class="t" transform="translate(1842,1782) rotate(-90)">66</text><text class="t" transform="translate(1842,1689.8) rotate(-90)">67</text><text class="t" transform="translate(1842,1597.6) rotate(-90)">68</text><text class="t" transform="translate(1842,1505.4) rotate(-90)">69</text><text class="t" transform="translate(1842,1413.2) rotate(-90)">70</text><text class="t" transform="translate(1842,1321) rotate(-90)">71</text><text class="t" transform="translate(1842,1228.8) rotate(-90)">72</text><text class="t" transform="translate(1842,1136.6) rotate(-90)">73</text><text class="t" transform="translate(1842,1044.4) rotate(-90)">74</text><text class="t" transform="translate(1842,952.2) rotate(-90)">75</text><text class="t" transform="translate(1842,860) rotate(-90)">76</text><text class="t" transform="translate(1842,767.8) rotate(-90)">77</text><text class="t" transform="translate(1842,675.6) rotate(-90)">78</text><text class="t" transform="translate(1842,583.4) rotate(-90)">79</text><text class="t" transform="translate(1842,491.2) rotate(-90)">80</text><text class="t" transform="translate(1842,399) rotate(-90)">81</text><text class="t" transform="translate(1842,306.8) rotate(-90)">82</text><text class="t" transform="translate(1842,214.6) rotate(-90)">83</text><text class="t" transform="translate(1842,122.4) rotate(-90)">84</text>
</g>
</svg>
